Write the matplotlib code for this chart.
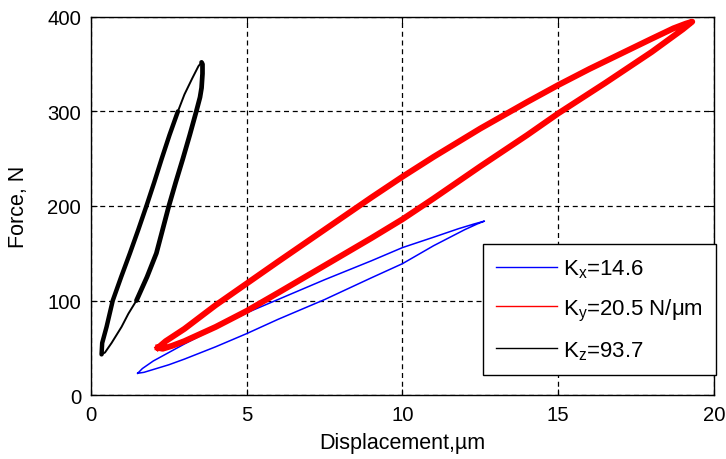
import matplotlib
matplotlib.use("Agg")
import matplotlib.pyplot as plt
import matplotlib.lines as mlines

plt.rcParams['font.family'] = ['Liberation Sans', 'DejaVu Sans']
plt.rcParams['mathtext.fontset'] = 'custom'
plt.rcParams['mathtext.rm'] = 'Liberation Sans'
plt.rcParams['mathtext.it'] = 'Liberation Sans'

# ---- data ----
# Kx loop (blue): upper branch then lower branch, closed
kx_disp = [1.50, 1.65, 2.0, 2.5, 3.0, 4.0, 5.0, 6.0, 7.5, 9.0, 10.0, 11.0, 11.8, 12.3, 12.63,
           12.4, 12.0, 11.0, 10.0, 9.0, 7.5, 6.0, 5.0, 4.0, 3.0, 2.5, 2.0, 1.7, 1.50]
kx_force = [23, 28, 36, 45, 54, 71, 87, 101, 122, 142, 156, 167, 176, 181, 184,
            181, 175, 158, 139, 124, 101, 80, 65, 51, 38, 32, 27, 24, 23]

# Ky loop (red)
ky_disp = [2.15, 2.4, 3.0, 4.0, 5.0, 6.0, 7.5, 9.0, 10.0, 11.0, 12.5, 14.0, 15.0, 16.0,
           17.0, 18.0, 18.7, 19.1, 19.3,
           19.0, 18.5, 18.0, 17.5, 16.5, 15.0, 14.0, 12.5, 11.0, 10.0, 9.0, 7.5, 6.0,
           5.0, 4.0, 3.0, 2.6, 2.3, 2.15]
ky_force = [50, 57, 70, 95, 118, 141, 175, 209, 231, 252, 282, 310, 328, 345,
            361, 377, 388, 393, 395,
            387, 375, 363, 352, 330, 298, 275, 242, 208, 186, 166, 137, 108,
            89, 72, 57, 52, 49, 50]

# Kz loop (black)
kz_disp = [0.34, 0.36, 0.50, 0.70, 0.97, 1.25, 1.52, 1.78, 2.03, 2.27, 2.52, 2.79,
           3.00, 3.25, 3.45, 3.55,
           3.58, 3.58, 3.55, 3.50, 3.38, 3.17, 2.95, 2.72, 2.50, 2.30, 2.10, 1.80,
           1.46, 1.20, 0.98, 0.66, 0.45, 0.34]
kz_force = [43, 55, 72, 100, 125, 150, 175, 200, 225, 250, 275, 300,
            318, 335, 348, 352,
            350, 340, 325, 315, 300, 275, 250, 225, 200, 175, 150, 125,
            100, 86, 72, 55, 45, 43]

labels = [r'K$_\mathregular{x}$=14.6', r'K$_\mathregular{y}$=20.5 N/$\mathregular{\mu}$m',
          r'K$_\mathregular{z}$=93.7']
x_ticks = [0, 5, 10, 15, 20]
y_ticks = [0, 100, 200, 300, 400]

fig = plt.figure(figsize=(7.26, 4.60), dpi=100)
ax = fig.add_axes([0.1253, 0.1391, 0.8582, 0.8218])

ax.plot(kx_disp, kx_force, color='#0000ff', lw=1.1)
ax.plot(ky_disp, ky_force, color='#ff0000', lw=4.3, solid_joinstyle='round')
ax.plot(kz_disp, kz_force, color='black', lw=1.4)
# thicker overlapping cycles on parts of the Kz loop
ax.plot(kz_disp[0:12], kz_force[0:12], color='black', lw=3.2, solid_capstyle='round')
ax.plot(kz_disp[15:29], kz_force[15:29], color='black', lw=3.4, solid_capstyle='round')

ax.set_xlim(0, 20)
ax.set_ylim(0, 400)
ax.set_xticks(x_ticks)
ax.set_yticks(y_ticks)
ax.grid(True, color='black', linestyle=(0, (4, 3)), linewidth=0.9)
ax.set_axisbelow(True)
ax.tick_params(direction='in', length=4, top=True, right=True, labelsize=14.6,
               colors='black', pad=7)
for s in ax.spines.values():
    s.set_linewidth(1.0)

ax.set_xlabel('Displacement,µm', fontsize=15.5, labelpad=6)
ax.set_ylabel('Force, N', fontsize=15.5, labelpad=13)

h1 = mlines.Line2D([], [], color='#0000ff', lw=1.0)
h2 = mlines.Line2D([], [], color='#ff0000', lw=1.0)
h3 = mlines.Line2D([], [], color='black', lw=1.0)
leg = ax.legend([h1, h2, h3], labels, loc='lower right', bbox_to_anchor=(1.003, 0.053),
                fontsize=16, frameon=True, fancybox=False, edgecolor='black',
                framealpha=1, handlelength=2.75, handletextpad=0.25,
                labelspacing=0.74, borderpad=0.6, borderaxespad=0)
leg.get_frame().set_linewidth(1.0)

fig.savefig('out.png', dpi=100)
